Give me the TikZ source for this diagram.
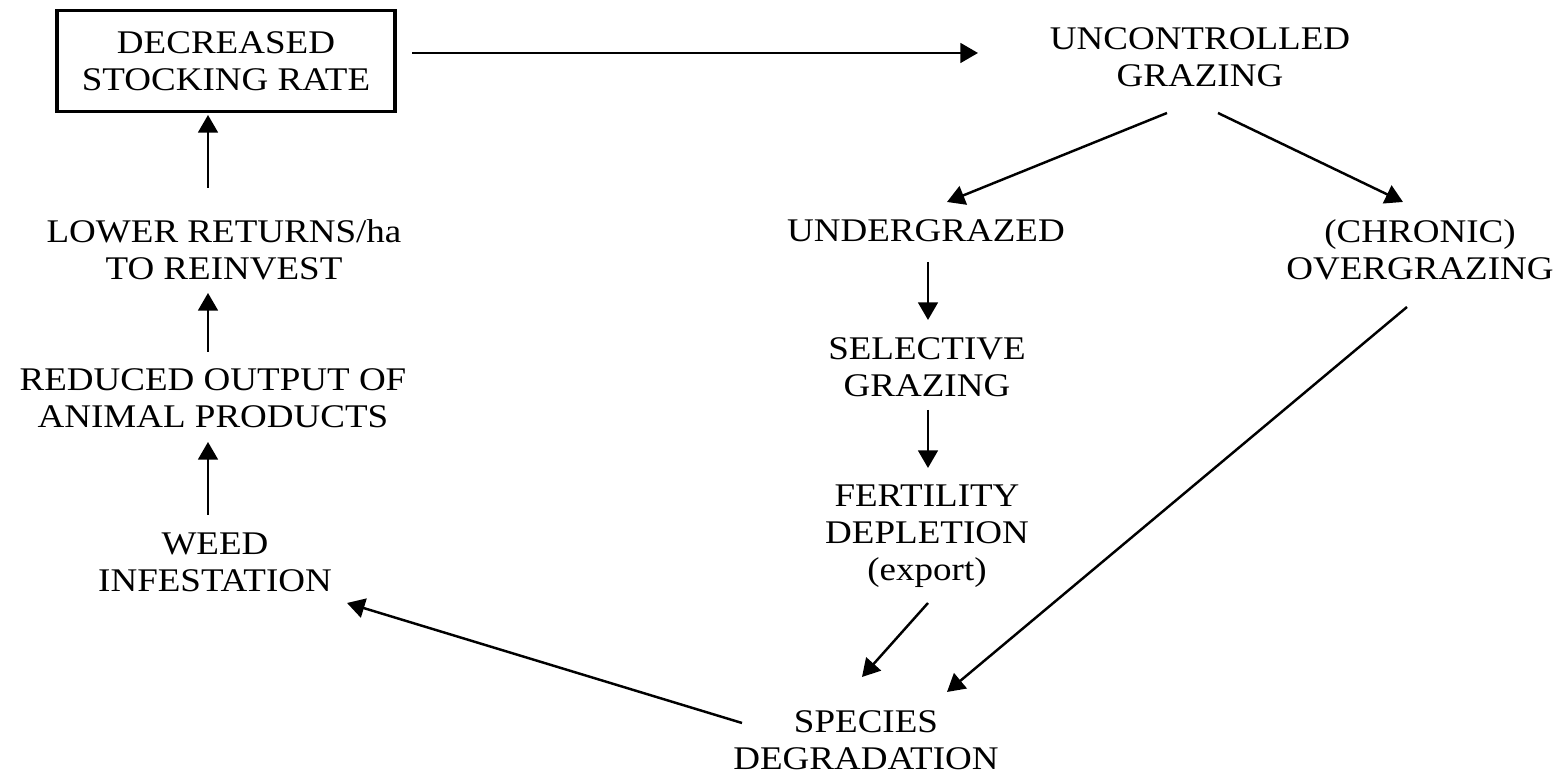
\documentclass[tikz,border=0pt]{standalone}
\usepackage{fontspec}
\setmainfont{Liberation Serif}[FakeStretch=1.12]
\usetikzlibrary{arrows.meta,calc}
\tikzset{
  lbl/.style={align=center,inner sep=0pt,font=\fontsize{9.4}{10.5}\selectfont},
  boxed/.style={lbl,draw,line width=1pt,minimum width=3.38cm,minimum height=1.01cm},
  arr/.style={line width=0.7pt,-{Triangle[length=5pt,width=5.6pt]}},
}
\begin{document}
\begin{tikzpicture}[x=0.01cm,y=-0.01cm]
\useasboundingbox[fill=white] (0,0) rectangle (1568,774);
\node[boxed] (dsr) at (226,61) {DECREASED\\STOCKING RATE};
\node[lbl] (ug) at (1200,57) {UNCONTROLLED\\GRAZING};
\node[lbl] (under) at (926,231) {UNDERGRAZED};
\node[lbl] (over) at (1420,250) {(CHRONIC)\\OVERGRAZING};
\node[lbl] (sel) at (927,367) {SELECTIVE\\GRAZING};
\node[lbl] (fert) at (927,536) {FERTILITY\\DEPLETION\\(export)};
\node[lbl] (spec) at (866,740) {SPECIES\\DEGRADATION};
\node[lbl] (weed) at (215,562) {WEED\\INFESTATION};
\node[lbl] (red) at (213,398) {REDUCED OUTPUT OF\\ANIMAL PRODUCTS};
\node[lbl] (low) at (224,250) {LOWER RETURNS/ha\\TO REINVEST};

\draw[arr] ($(dsr)+(186,-8)$) -- ($(ug)+(-222,-4)$);
\draw[arr] ($(ug)+(-33,56)$) -- ($(under)+(21,-29)$);
\draw[arr] ($(ug)+(18,56)$) -- ($(over)+(-17,-48)$);
\draw[arr] ($(under)+(2,31)$) -- ($(sel)+(1,-47)$);
\draw[arr] ($(sel)+(1,43)$) -- ($(fert)+(1,-68)$);
\draw[arr] ($(fert)+(1,67)$) -- ($(spec)+(-4,-63)$);
\draw[arr] ($(over)+(-13,57)$) -- ($(spec)+(81,-48)$);
\draw[arr] ($(spec)+(-124,-17)$) -- ($(weed)+(132,41)$);
\draw[arr] ($(weed)+(-7,-47)$) -- ($(red)+(-5,44)$);
\draw[arr] ($(red)+(-5,-46)$) -- ($(low)+(-16,43)$);
\draw[arr] ($(low)+(-16,-62)$) -- ($(dsr)+(-18,54)$);
\end{tikzpicture}
\end{document}
